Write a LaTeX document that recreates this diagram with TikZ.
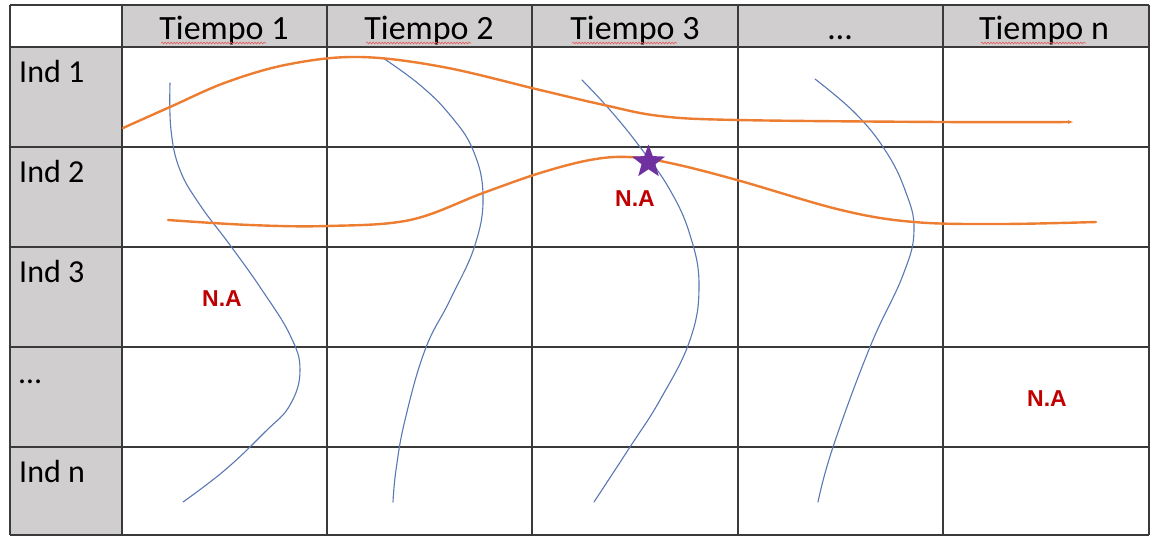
\documentclass[tikz,border=0pt]{standalone}
\usepackage{fontspec}
\setmainfont{Carlito}
\newfontfamily\nafont{Liberation Sans}
\usetikzlibrary{shapes.geometric,arrows.meta,decorations.pathmorphing}
\definecolor{gridc}{HTML}{3A3A3A}
\definecolor{hdr}{HTML}{D0CECE}
\definecolor{orng}{HTML}{ED7D31}
\definecolor{blu}{HTML}{5A78B4}
\definecolor{nared}{HTML}{C00000}
\definecolor{purp}{HTML}{7030A0}
\definecolor{spell}{HTML}{E06060}
\tikzset{
  gridline/.style={draw=gridc, line width=1.6pt},
  hdrtext/.style={anchor=base, inner sep=0pt, font=\fontsize{34}{36}\selectfont},
  rowtext/.style={anchor=base west, inner sep=0pt, font=\fontsize{32}{36}\selectfont},
  natext/.style={inner sep=0pt, text=nared, font=\nafont\bfseries\fontsize{23}{26}\selectfont},
  orcurve/.style={draw=orng, line width=2.4pt, line cap=round},
  blcurve/.style={draw=blu, line width=1.1pt, line cap=round},
  spellline/.style={draw=spell, line width=0.6pt, decorate, decoration={snake, amplitude=0.9pt, segment length=3pt}},
  starmark/.style={star, star points=5, star point ratio=2.4, fill=purp, draw=none, minimum size=35pt, inner sep=0pt}
}
\begin{document}
\begin{tikzpicture}[x=1pt,y=-1pt]
\useasboundingbox[fill=white] (0,0) rectangle (1152,539);
% fills
\fill[hdr] (122,5) rectangle (1149,47);
\fill[hdr] (10,47) rectangle (122,535);
% grid
\foreach \xx in {10,122,327,532,738,943,1149}
  \draw[gridline] (\xx,5) -- (\xx,535);
\foreach \yy in {5,47,147,247,347,447,535}
  \draw[gridline] (10,\yy) -- (1149,\yy);
% header texts
\node[hdrtext] (h1) at (224,39) {Tiempo 1};
\node[hdrtext] (h2) at (429,39) {Tiempo 2};
\node[hdrtext] (h3) at (635,39) {Tiempo 3};
\node[hdrtext] (h4) at (840,39) {…};
\node[hdrtext] (h5) at (1044,39) {Tiempo n};
\foreach \h in {h1,h2,h3,h5}
  \draw[spellline] ([xshift=2pt,yshift=-4pt]\h.base west) -- ++(105,0);
% row texts
\node[rowtext] (r1) at (19,82) {Ind 1};
\node[rowtext] (r2) at (19,182) {Ind 2};
\node[rowtext] (r3) at (19,282) {Ind 3};
\node[rowtext] (r4) at (19,383) {…};
\node[rowtext] (r5) at (19,482) {Ind n};
% blue curves
\draw[blcurve] plot[smooth, tension=0.7] coordinates {(170,83) (171,130) (180,170) (200,205) (230,245) (262,290) (290,335) (300,370) (290,405) (265,432) (225,470) (183,502)};
\draw[blcurve] plot[smooth, tension=0.7] coordinates {(383,58) (420,85) (450,115) (473,150) (483,195) (475,245) (450,300) (425,350) (405,420) (396,470) (393,502)};
\draw[blcurve] plot[smooth, tension=0.7] coordinates {(582,80) (610,110) (640,147) (670,190) (690,235) (699,285) (690,340) (660,400) (630,447) (594,502)};
\draw[blcurve] plot[smooth, tension=0.7] coordinates {(815,79) (855,113) (885,150) (905,190) (914,230) (903,275) (870,347) (833,447) (818,502)};
% orange curves
\draw[orcurve, -{Latex[length=6pt,width=4pt]}] plot[smooth, tension=0.6] coordinates {(123,128) (170,107) (227,82) (290,64) (360,57) (443,67) (540,90) (604,105) (660,116) (737,120) (942,122) (1074,122)};
\draw[orcurve] plot[smooth, tension=0.6] coordinates {(168,220) (250,225) (327,226) (410,220) (483,193) (540,173) (590,160) (628,157) (670,163) (737,180) (841,210) (914,222) (1000,224) (1096,222)};
% star and labels
\node[starmark] (st) at (648.5,162) {};
\node[natext] (na1) at (635,199) {N.A};
\node[natext] (na2) at (222,299) {N.A};
\node[natext] (na3) at (1047,399) {N.A};
\end{tikzpicture}
\end{document}
